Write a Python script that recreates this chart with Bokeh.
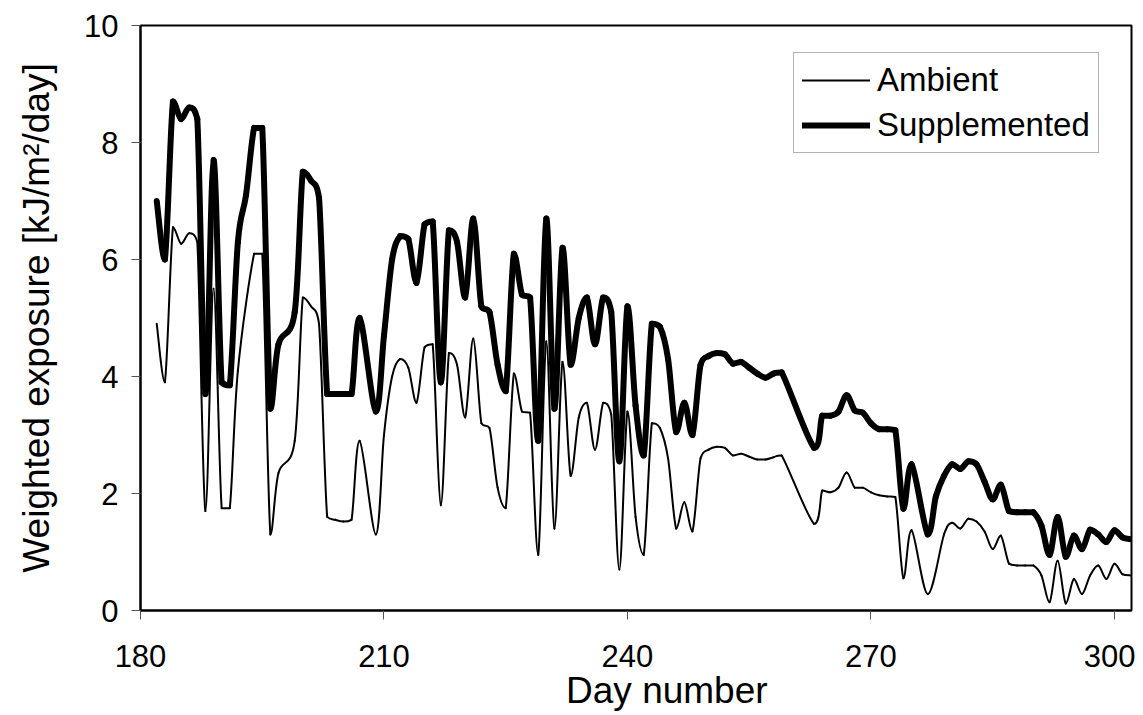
import numpy as np
from bokeh.plotting import figure
from bokeh.models import Range1d, Legend, LegendItem, FixedTicker
from bokeh.embed import file_html
from bokeh.resources import INLINE

# Supplemented series (day, weighted exposure)
supp_day = [182, 183, 184, 185, 186, 187, 188, 189, 190, 191, 192, 193, 194, 195, 196, 197, 199,
            200, 201, 202, 203, 204, 205, 206, 207, 209, 210, 211, 212, 213, 214, 215, 216, 217,
            218, 219, 220, 221, 222, 223, 224, 225, 226, 227, 228, 229, 230, 231, 232, 233, 234,
            235, 236, 237, 238, 239, 240, 241, 242, 243, 244, 245, 246, 247, 248, 249, 250, 251,
            252, 253, 254, 255, 256, 257, 258, 259, 263, 264, 265, 266, 267, 268, 269, 270, 271,
            272, 273, 274, 275, 277, 278, 279, 280, 281, 282, 283, 284, 285, 286, 287, 288, 289,
            290, 291, 292, 293, 294, 295, 296, 297, 298, 299, 300, 301, 302]
supp_val = [7.0, 6.0, 8.7, 8.4, 8.6, 8.4, 3.7, 7.7, 3.9, 3.85, 6.3, 7.1, 8.25, 8.25, 3.45, 4.55, 5.1,
            7.5, 7.35, 7.05, 3.7, 3.7, 3.7, 3.7, 5.0, 3.4, 4.7, 6.0, 6.4, 6.35, 5.6, 6.6, 6.65, 3.9,
            6.5, 6.3, 5.35, 6.7, 5.2, 5.1, 4.2, 3.75, 6.1, 5.4, 5.35, 2.9, 6.7, 3.45, 6.2, 4.2, 5.0,
            5.35, 4.55, 5.35, 5.1, 2.55, 5.2, 3.5, 2.65, 4.9, 4.85, 4.3, 3.05, 3.55, 3.0, 4.2, 4.35, 4.4,
            4.38, 4.22, 4.25, 4.15, 4.05, 3.98, 4.05, 4.07, 2.78, 3.33, 3.33, 3.4, 3.68, 3.42, 3.38, 3.2, 3.1,
            3.1, 3.08, 1.74, 2.5, 1.3, 1.95, 2.3, 2.5, 2.42, 2.55, 2.5, 2.2, 1.9, 2.15, 1.7, 1.68, 1.68,
            1.68, 1.45, 0.95, 1.6, 0.92, 1.28, 1.05, 1.38, 1.3, 1.17, 1.37, 1.25, 1.22]

# Ambient series (day, weighted exposure)
amb_day = [182, 183, 184, 185, 186, 187, 188, 189, 190, 191, 192, 194, 195, 196, 197, 199, 200,
           201, 202, 203, 204, 205, 206, 207, 209, 210, 211, 212, 213, 214, 215, 216, 217, 218,
           219, 220, 221, 222, 223, 224, 225, 226, 227, 228, 229, 230, 231, 232, 233, 234, 235,
           236, 237, 238, 239, 240, 241, 242, 243, 244, 245, 246, 247, 248, 249, 250, 251, 252,
           253, 254, 255, 256, 257, 258, 259, 263, 264, 265, 266, 267, 268, 269, 270, 271, 272,
           273, 274, 275, 277, 279, 280, 281, 282, 283, 284, 285, 286, 287, 288, 289, 290, 291,
           292, 293, 294, 295, 296, 297, 298, 299, 300, 301, 302]
amb_val = [4.9, 3.9, 6.55, 6.27, 6.45, 6.3, 1.7, 5.5, 1.75, 1.75, 4.1, 6.1, 6.1, 1.3, 2.35, 2.9, 5.35,
           5.2, 4.9, 1.6, 1.55, 1.52, 1.55, 2.9, 1.3, 3.0, 4.0, 4.3, 4.15, 3.55, 4.5, 4.55, 1.8, 4.4,
           4.2, 3.3, 4.65, 3.2, 3.12, 2.1, 1.75, 4.05, 3.4, 3.38, 0.95, 4.6, 1.4, 4.25, 2.3, 3.3, 3.55,
           2.75, 3.55, 3.35, 0.7, 3.4, 1.6, 0.95, 3.2, 3.12, 2.6, 1.4, 1.85, 1.35, 2.6, 2.75, 2.8, 2.78,
           2.65, 2.68, 2.63, 2.58, 2.58, 2.62, 2.65, 1.48, 2.05, 2.02, 2.1, 2.36, 2.1, 2.1, 2.02, 1.97, 1.95,
           1.94, 0.55, 1.37, 0.28, 1.3, 1.5, 1.4, 1.57, 1.52, 1.35, 1.05, 1.28, 0.8, 0.77, 0.77, 0.77, 0.6,
           0.14, 0.85, 0.12, 0.54, 0.28, 0.6, 0.77, 0.54, 0.8, 0.62, 0.6]

x_ticks = [180, 210, 240, 270, 300]
y_ticks = [0, 2, 4, 6, 8, 10]

FONT = "Liberation Sans"


def smooth_segments(xs, ys):
    """Bezier control points for a smoothed line through the data (no overshoot past neighbours)."""
    x = np.asarray(xs, float)
    y = np.asarray(ys, float)
    xp = np.concatenate([[x[0]], x, [x[-1]]])
    yp = np.concatenate([[y[0]], y, [y[-1]]])
    d = {"x0": [], "y0": [], "x1": [], "y1": [], "cx0": [], "cy0": [], "cx1": [], "cy1": []}
    for i in range(len(x) - 1):
        p0x, p0y = xp[i], yp[i]
        p1x, p1y = xp[i + 1], yp[i + 1]
        p2x, p2y = xp[i + 2], yp[i + 2]
        p3x, p3y = xp[i + 3], yp[i + 3]
        lo, hi = min(p1y, p2y), max(p1y, p2y)
        c0y = min(max(p1y + (p2y - p0y) / 6.0, lo), hi)
        c1y = min(max(p2y - (p3y - p1y) / 6.0, lo), hi)
        d["x0"].append(p1x); d["y0"].append(p1y)
        d["x1"].append(p2x); d["y1"].append(p2y)
        d["cx0"].append(p1x + (p2x - p0x) / 6.0); d["cy0"].append(c0y)
        d["cx1"].append(p2x - (p3x - p1x) / 6.0); d["cy1"].append(c1y)
    return d


p = figure(frame_width=991, frame_height=585, output_backend="svg", toolbar_location=None,
           x_range=Range1d(180, 302.1), y_range=Range1d(0, 10),
           min_border_left=140, min_border_right=4, min_border_top=25, min_border_bottom=100)

p.background_fill_color = "white"
p.border_fill_color = "white"
p.outline_line_color = "black"
p.outline_line_width = 2
p.xgrid.visible = False
p.ygrid.visible = False

amb = p.bezier(source=smooth_segments(amb_day, amb_val), x0="x0", y0="y0", x1="x1", y1="y1",
               cx0="cx0", cy0="cy0", cx1="cx1", cy1="cy1",
               line_color="black", line_width=2, line_cap="round")
sup = p.bezier(source=smooth_segments(supp_day, supp_val), x0="x0", y0="y0", x1="x1", y1="y1",
               cx0="cx0", cy0="cy0", cx1="cx1", cy1="cy1",
               line_color="black", line_width=6, line_cap="round")

for ax, ticks in ((p.xaxis[0], x_ticks), (p.yaxis[0], y_ticks)):
    ax.ticker = FixedTicker(ticks=ticks)
    ax.minor_tick_line_color = None
    ax.major_tick_in = 0
    ax.major_tick_out = 9
    ax.major_tick_line_color = "#555555"
    ax.major_tick_line_width = 1
    ax.axis_line_color = "black"
    ax.axis_line_width = 2
    ax.major_label_text_font = FONT
    ax.major_label_text_font_size = "31px"
    ax.major_label_text_color = "black"

p.xaxis.major_label_standoff = 25
p.yaxis.major_label_standoff = 13

p.yaxis.axis_label = "Weighted exposure [kJ/m\u00b2/day]"
p.yaxis.axis_label_text_font = FONT
p.yaxis.axis_label_text_font_size = "37px"
p.yaxis.axis_label_text_font_style = "normal"
p.yaxis.axis_label_text_color = "black"
p.yaxis.axis_label_standoff = 24

p.xaxis.axis_label = "\u00a0" * 6 + "Day number"
p.xaxis.axis_label_text_font = FONT
p.xaxis.axis_label_text_font_size = "37px"
p.xaxis.axis_label_text_font_style = "normal"
p.xaxis.axis_label_text_color = "black"
p.xaxis.axis_label_standoff = 0

legend = Legend(items=[LegendItem(label="Ambient", renderers=[amb]),
                       LegendItem(label="Supplemented", renderers=[sup])],
                location=(653, 457))
legend.label_text_font = FONT
legend.label_text_font_size = "33px"
legend.label_text_color = "black"
legend.glyph_width = 68
legend.glyph_height = 30
legend.label_height = 30
legend.label_standoff = 7
legend.spacing = 7
legend.padding = 8
legend.margin = 0
legend.border_line_color = "#666666"
legend.border_line_width = 1
legend.background_fill_color = "white"
legend.background_fill_alpha = 1
p.add_layout(legend)

open("out.html", "w").write(file_html(p, INLINE))
